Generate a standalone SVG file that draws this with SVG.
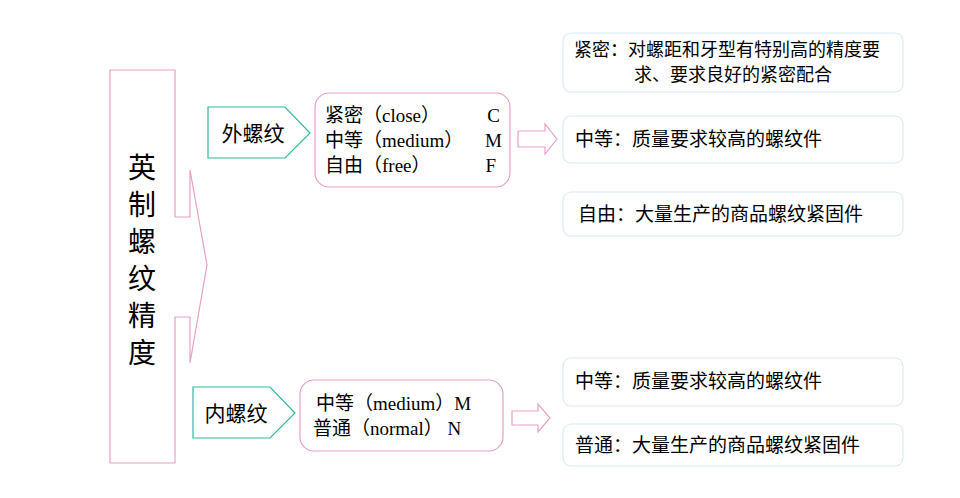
<svg xmlns="http://www.w3.org/2000/svg" width="960" height="498" viewBox="0 0 960 498">
<style>
text{font-family:"Liberation Serif","Noto Sans CJK SC",serif;fill:#000}
.s{font-family:"Noto Sans CJK SC",sans-serif}
.pk{fill:#fff;stroke:#e8a0c8;stroke-width:1.2}
.gr{fill:#fff;stroke:#30b8a0;stroke-width:1.2}
.bl{fill:#fff;stroke:#d8ecf4;stroke-width:1.2}
</style>
<rect width="960" height="498" fill="#fff"/>
<g id="root">
<polygon class="pk" points="110,70 175,70 175,217 190,217 190,170 207,265 190,363 190,317 175,317 175,463 110,463"/>
<text x="142" y="178" font-size="28" text-anchor="middle" class="s">英</text>
<text x="142" y="215" font-size="28" text-anchor="middle" class="s">制</text>
<text x="142" y="252" font-size="28" text-anchor="middle" class="s">螺</text>
<text x="142" y="289" font-size="28" text-anchor="middle" class="s">纹</text>
<text x="142" y="326" font-size="28" text-anchor="middle" class="s">精</text>
<text x="142" y="363" font-size="28" text-anchor="middle" class="s">度</text>
</g>
<g id="ext">
<polygon class="gr" points="208,107 285,107 310,133 285,158 208,158"/>
<text x="253" y="141" font-size="21" text-anchor="middle" class="s">外螺纹</text>
</g>
<g id="int">
<polygon class="gr" points="193,387 270,387 295,413 270,438 193,438"/>
<text x="236" y="421" font-size="21" text-anchor="middle" class="s">内螺纹</text>
</g>
<g id="extlist">
<rect class="pk" x="315" y="93" width="195" height="94" rx="14"/>
<text font-size="19"><tspan x="325" y="122">紧密（close）</tspan><tspan x="325" y="147">中等（medium）</tspan><tspan x="325" y="172">自由（free）</tspan></text>
<text font-size="19" text-anchor="end"><tspan x="500" y="122">C</tspan><tspan x="502" y="147">M</tspan><tspan x="496" y="172">F</tspan></text>
</g>
<g id="intlist">
<rect class="pk" x="300" y="380" width="203" height="71" rx="14"/>
<text font-size="19"><tspan x="316" y="410">中等（medium）M</tspan><tspan x="313" y="435">普通（normal）  N</tspan></text>
</g>
<g id="connectors">
<polygon class="pk" points="518,131 545,131 545,124 557,139 545,154 545,147 518,147"/>
<polygon class="pk" points="512,411 538,411 538,404 550,418 538,432 538,425 512,425"/>
</g>
<g id="d1"><rect class="bl" x="563" y="33" width="340" height="59" rx="8"/>
<text x="574" y="56" font-size="18" class="s">紧密：对螺距和牙型有特别高的精度要</text>
<text x="733" y="81" font-size="18" text-anchor="middle" class="s">求、要求良好的紧密配合</text></g>
<g id="d2"><rect class="bl" x="563" y="116" width="340" height="47" rx="8"/>
<text x="575" y="146" font-size="19" class="s">中等：质量要求较高的螺纹件</text></g>
<g id="d3"><rect class="bl" x="563" y="192" width="340" height="44" rx="8"/>
<text x="578" y="221" font-size="19" class="s">自由：大量生产的商品螺纹紧固件</text></g>
<g id="d4"><rect class="bl" x="563" y="358" width="340" height="48" rx="8"/>
<text x="575" y="388" font-size="19" class="s">中等：质量要求较高的螺纹件</text></g>
<g id="d5"><rect class="bl" x="563" y="424" width="340" height="42" rx="8"/>
<text x="575" y="452" font-size="19" class="s">普通：大量生产的商品螺纹紧固件</text></g>
</svg>
